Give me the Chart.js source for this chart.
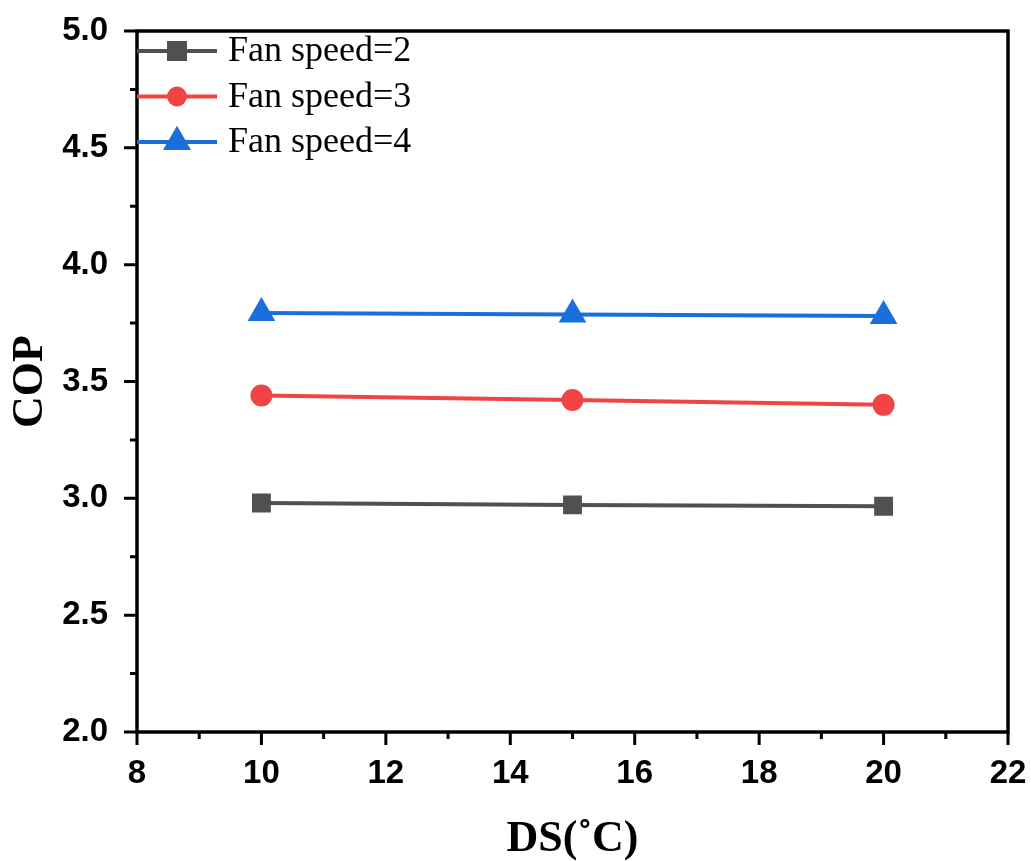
<!DOCTYPE html>
<html lang="en">
<head>
<meta charset="UTF-8">
<title>COP vs DS</title>
<script src="https://cdn.jsdelivr.net/npm/chart.js@4.4.1/dist/chart.umd.min.js"></script>
<style>
    body{ margin:0; background:#fff; }
    #board{ width:1031px; height:861px; }
</style>
</head>
<body>
<div id="board"><canvas id="chart1" width="1031" height="861"></canvas></div>
<script>
// data
const ds = [10, 15, 20];
const fan2 = [2.98, 2.972, 2.966];
const fan3 = [3.44, 3.421, 3.40];
const fan4 = [3.793, 3.787, 3.78];
const seriesNames = ['Fan speed=2', 'Fan speed=3', 'Fan speed=4'];
const xTicks = [8, 10, 12, 14, 16, 18, 20, 22];
const yTicks = [2.0, 2.5, 3.0, 3.5, 4.0, 4.5, 5.0];

const pts = (ys) => ds.map((x, i) => ({x: x, y: ys[i]}));

function marker(ctx, style, r, x, y, color){
    ctx.save();
    ctx.fillStyle = color;
    ctx.beginPath();
    if(style === 'rect'){
        const s = r * Math.SQRT1_2;
        ctx.rect(x - s, y - s, 2*s, 2*s);
    } else if(style === 'triangle'){
        ctx.moveTo(x, y - r);
        ctx.lineTo(x + r*Math.sin(Math.PI*2/3), y - r*Math.cos(Math.PI*2/3));
        ctx.lineTo(x - r*Math.sin(Math.PI*2/3), y - r*Math.cos(Math.PI*2/3));
        ctx.closePath();
    } else {
        ctx.arc(x, y, r, 0, Math.PI*2);
    }
    ctx.fill();
    ctx.restore();
}

// frame, minor/major ticks and the in-plot legend
const framePlugin = {
    id: 'frame',
    afterDraw(chart){
        const ctx = chart.ctx;
        const a = chart.chartArea;
        const xs = chart.scales.x, ys = chart.scales.y;
        ctx.save();
        ctx.strokeStyle = '#000';
        ctx.lineWidth = 3.5;
        ctx.strokeRect(a.left, a.top, a.right - a.left, a.bottom - a.top);
        ctx.lineWidth = 3;
        ctx.beginPath();
        for(let v = xs.min; v <= xs.max; v += 1){
            const px = xs.getPixelForValue(v);
            const len = (v % 2 === 0) ? 13 : 7;
            ctx.moveTo(px, a.bottom); ctx.lineTo(px, a.bottom + len);
        }
        for(let k = 0; k <= 12; k++){
            const v = ys.min + k*0.25;
            const py = ys.getPixelForValue(v);
            const len = (k % 2 === 0) ? 13 : 7;
            ctx.moveTo(a.left, py); ctx.lineTo(a.left - len, py);
        }
        ctx.stroke();

        // legend (markers drawn a bit bigger than in the plot, like the original)
        chart.data.datasets.forEach((d, i) => {
            const y = a.top + 20 + i*45.5;
            ctx.strokeStyle = d.borderColor;
            ctx.lineWidth = 4;
            ctx.beginPath();
            ctx.moveTo(a.left, y); ctx.lineTo(a.left + 80, y);
            ctx.stroke();
            const lr = d.pointRadius * (d.pointStyle === 'circle' ? 1.1 : 1.35);
            marker(ctx, d.pointStyle, lr, a.left + 40, y, d.backgroundColor);
            ctx.fillStyle = '#000';
            ctx.font = '36px "Liberation Serif"';
            ctx.textBaseline = 'middle';
            ctx.textAlign = 'left';
            ctx.fillText(d.label, a.left + 91, y + 1);
        });
        ctx.restore();
    }
};

const ctx = document.getElementById('chart1').getContext('2d');
new Chart(ctx, {
    type: 'line',
    data: {
        datasets: [
            {label: seriesNames[0], data: pts(fan2), borderColor: '#505050', backgroundColor: '#505050',
             pointStyle: 'rect', pointRadius: 10.5, borderWidth: 4},
            {label: seriesNames[1], data: pts(fan3), borderColor: '#f04444', backgroundColor: '#f04444',
             pointStyle: 'circle', pointRadius: 9, borderWidth: 4},
            {label: seriesNames[2], data: pts(fan4), borderColor: '#1a6fdd', backgroundColor: '#1a6fdd',
             pointStyle: 'triangle', pointRadius: 12, borderWidth: 4}
        ]
    },
    options: {
        responsive: false,
        animation: false,
        layout: { padding: {left: 0, top: 31, right: 23, bottom: 0} },
        elements: { line: {tension: 0}, point: {borderWidth: 0, hoverRadius: 10} },
        plugins: { legend: {display: false}, tooltip: {enabled: false} },
        scales: {
            x: {
                type: 'linear',
                min: 8, max: 22,
                afterBuildTicks: (s) => { s.ticks = xTicks.map(v => ({value: v})); },
                afterFit: (s) => { s.height = 129; s.paddingLeft = 0; s.paddingRight = 0; },
                grid: {display: false, drawTicks: false},
                border: {display: false},
                ticks: {
                    padding: 22, color: '#000',
                    font: {family: '"Liberation Sans"', size: 33, weight: 'bold'}
                },
                title: {
                    display: true, text: 'DS(˚C)', color: '#000',
                    padding: {top: 0, bottom: -5},
                    font: {family: '"Liberation Serif"', size: 44, weight: 'bold'}
                }
            },
            y: {
                min: 2, max: 5,
                afterBuildTicks: (s) => { s.ticks = yTicks.map(v => ({value: v})); },
                afterFit: (s) => { s.width = 137; s.paddingTop = 0; s.paddingBottom = 0; },
                grid: {display: false, drawTicks: false},
                border: {display: false},
                ticks: {
                    padding: 29, color: '#000',
                    callback: (v) => v.toFixed(1),
                    font: {family: '"Liberation Sans"', size: 33, weight: 'bold'}
                },
                title: {
                    display: true, text: 'COP', color: '#000',
                    padding: {top: 4, bottom: 0},
                    font: {family: '"Liberation Serif"', size: 44, weight: 'bold'}
                }
            }
        }
    },
    plugins: [framePlugin]
});
</script>
</body>
</html>
